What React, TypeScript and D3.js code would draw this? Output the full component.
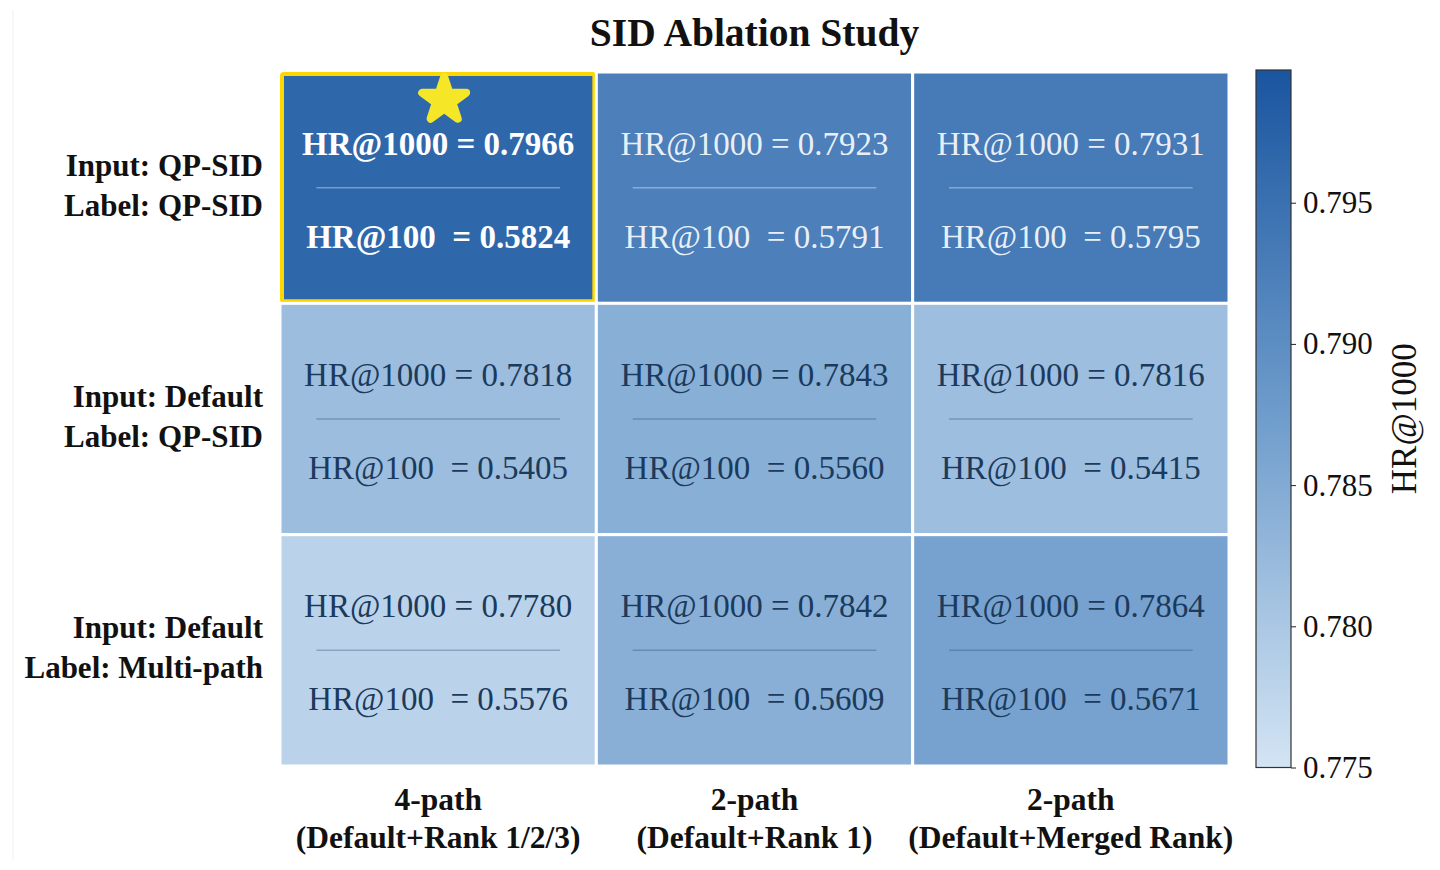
import React, { useEffect, useRef } from 'react';
import * as d3 from 'd3';

// row / column categories
const rowLabels = [
  ['Input: QP-SID', 'Label: QP-SID'],
  ['Input: Default', 'Label: QP-SID'],
  ['Input: Default', 'Label: Multi-path'],
];
const colLabels = [
  ['4-path', '(Default+Rank 1/2/3)'],
  ['2-path', '(Default+Rank 1)'],
  ['2-path', '(Default+Merged Rank)'],
];

// values per row
const hr1000 = [
  [0.7966, 0.7923, 0.7931],
  [0.7818, 0.7843, 0.7816],
  [0.778, 0.7842, 0.7864],
];
const hr100 = [
  [0.5824, 0.5791, 0.5795],
  [0.5405, 0.556, 0.5415],
  [0.5576, 0.5609, 0.5671],
];

const cbTicks = [0.775, 0.78, 0.785, 0.79, 0.795];
const vmin = 0.775;
const vmax = 0.7997;

const W = 1440;
const H = 870;
const serif = '"Liberation Serif", "Times New Roman", serif';
const darkText = '#1b3a5c';

export default function App() {
  const cbAxisRef = useRef<SVGGElement>(null);

  const x = d3.scaleBand<number>().domain([0, 1, 2]).range([280, 1229]);
  const y = d3.scaleBand<number>().domain([0, 1, 2]).range([72, 766]);

  const color = d3
    .scaleLinear<string>()
    .domain([vmin, (vmin + vmax) / 2, vmax])
    .range(['#d3e4f4', '#6f9dcc', '#1a55a0'])
    .interpolate(d3.interpolateRgb);

  const cbY = d3.scaleLinear().domain([vmin, vmax]).range([767.5, 70]);
  const cbX = 1256;
  const cbW = 35;

  const best = d3.max(hr1000.flat())!;
  const star = d3.symbol().type(d3.symbolStar).size(600)()!;

  useEffect(() => {
    // colorbar axis
    const g = d3.select(cbAxisRef.current);
    g.selectAll('*').remove();
    g.call(
      d3
        .axisRight(cbY)
        .tickValues(cbTicks)
        .tickSize(5)
        .tickPadding(7)
        .tickFormat(d3.format('.3f') as any)
    );
    g.select('.domain').remove();
    g.selectAll('.tick line').attr('stroke', '#222');
    g.selectAll('.tick text')
      .attr('font-family', serif)
      .attr('font-size', 31)
      .attr('fill', '#111');
  }, []);

  const gradStops = d3.range(0, 1.0001, 0.05).map((t) => vmin + t * (vmax - vmin));

  return (
    <svg
      width={W}
      height={H}
      style={{ position: 'absolute', left: 0, top: 0, background: '#fff' }}
    >
      <defs>
        <linearGradient id="cbGrad" x1="0" y1="1" x2="0" y2="0">
          {gradStops.map((v, i) => (
            <stop
              key={i}
              offset={(v - vmin) / (vmax - vmin)}
              stopColor={color(v)}
            />
          ))}
        </linearGradient>
      </defs>

      {/* faint figure edge */}
      <line x1={13} x2={13} y1={10} y2={860} stroke="#f0f0f0" strokeWidth={1} />

      {/* title */}
      <text
        x={(x.range()[0] + x.range()[1]) / 2}
        y={46}
        textAnchor="middle"
        fontFamily={serif}
        fontWeight="bold"
        fontSize={39.5}
        fill="#111"
      >
        SID Ablation Study
      </text>

      {/* cells */}
      {hr1000.map((row, r) =>
        row.map((v, c) => {
          const x0 = x(c)!;
          const y0 = y(r)!;
          const w = x.bandwidth();
          const h = y.bandwidth();
          const cx = x0 + w / 2;
          const cy = y0 + h / 2;
          const isBest = v === best;
          const light = v > 0.79;
          const txt = light ? '#ffffff' : darkText;
          return (
            <g key={`${r}-${c}`}>
              <rect
                x={x0}
                y={y0}
                width={w}
                height={h}
                fill={color(v)}
                stroke="#fff"
                strokeWidth={3}
              />
              {isBest && (
                <rect
                  x={x0 + 2}
                  y={y0 + 2}
                  width={w - 4}
                  height={h - 4}
                  fill="none"
                  stroke="#FFD700"
                  strokeWidth={4}
                  rx={2}
                />
              )}
              <line
                x1={cx - w * 0.385}
                x2={cx + w * 0.385}
                y1={cy}
                y2={cy}
                stroke={txt}
                strokeOpacity={light ? 0.35 : 0.3}
                strokeWidth={1.5}
              />
              <text
                x={cx}
                y={cy - 33}
                textAnchor="middle"
                fontFamily={serif}
                fontSize={33}
                fontWeight={isBest ? 'bold' : 'normal'}
                fill={txt}
                fillOpacity={isBest ? 1 : light ? 0.9 : 1}
                style={{ whiteSpace: 'pre' }}
              >
                {`HR@1000 = ${v.toFixed(4)}`}
              </text>
              <text
                x={cx}
                y={cy + 60}
                textAnchor="middle"
                fontFamily={serif}
                fontSize={33}
                fontWeight={isBest ? 'bold' : 'normal'}
                fill={txt}
                fillOpacity={isBest ? 1 : light ? 0.9 : 1}
                style={{ whiteSpace: 'pre' }}
              >
                {`HR@100  = ${hr100[r][c].toFixed(4)}`}
              </text>
              {isBest && (
                <path
                  d={star}
                  transform={`translate(${cx + 6},${y0 + 28})`}
                  fill="#f5e728"
                  stroke="#f5e728"
                  strokeWidth={8}
                  strokeLinejoin="round"
                />
              )}
            </g>
          );
        })
      )}

      {/* row labels */}
      {rowLabels.map((lines, r) => {
        const cy = y(r)! + y.bandwidth() / 2;
        return (
          <text
            key={r}
            textAnchor="end"
            fontFamily={serif}
            fontWeight="bold"
            fontSize={31}
            fill="#111"
          >
            <tspan x={263} y={cy - 12}>
              {lines[0]}
            </tspan>
            <tspan x={263} y={cy + 28}>
              {lines[1]}
            </tspan>
          </text>
        );
      })}

      {/* column labels */}
      {colLabels.map((lines, c) => {
        const cx = x(c)! + x.bandwidth() / 2;
        return (
          <text
            key={c}
            textAnchor="middle"
            fontFamily={serif}
            fontWeight="bold"
            fontSize={31.5}
            fill="#111"
          >
            <tspan x={cx} y={810}>
              {lines[0]}
            </tspan>
            <tspan x={cx} y={848}>
              {lines[1]}
            </tspan>
          </text>
        );
      })}

      {/* colorbar */}
      <rect
        x={cbX}
        y={cbY(vmax)}
        width={cbW}
        height={cbY(vmin) - cbY(vmax)}
        fill="url(#cbGrad)"
        stroke="#333"
        strokeWidth={1.2}
      />
      <g ref={cbAxisRef} transform={`translate(${cbX + cbW},0)`} />
      <text
        transform={`translate(1416,${(cbY(vmin) + cbY(vmax)) / 2}) rotate(-90)`}
        textAnchor="middle"
        fontFamily={serif}
        fontSize={35}
        fill="#111"
      >
        HR@1000
      </text>
    </svg>
  );
}
